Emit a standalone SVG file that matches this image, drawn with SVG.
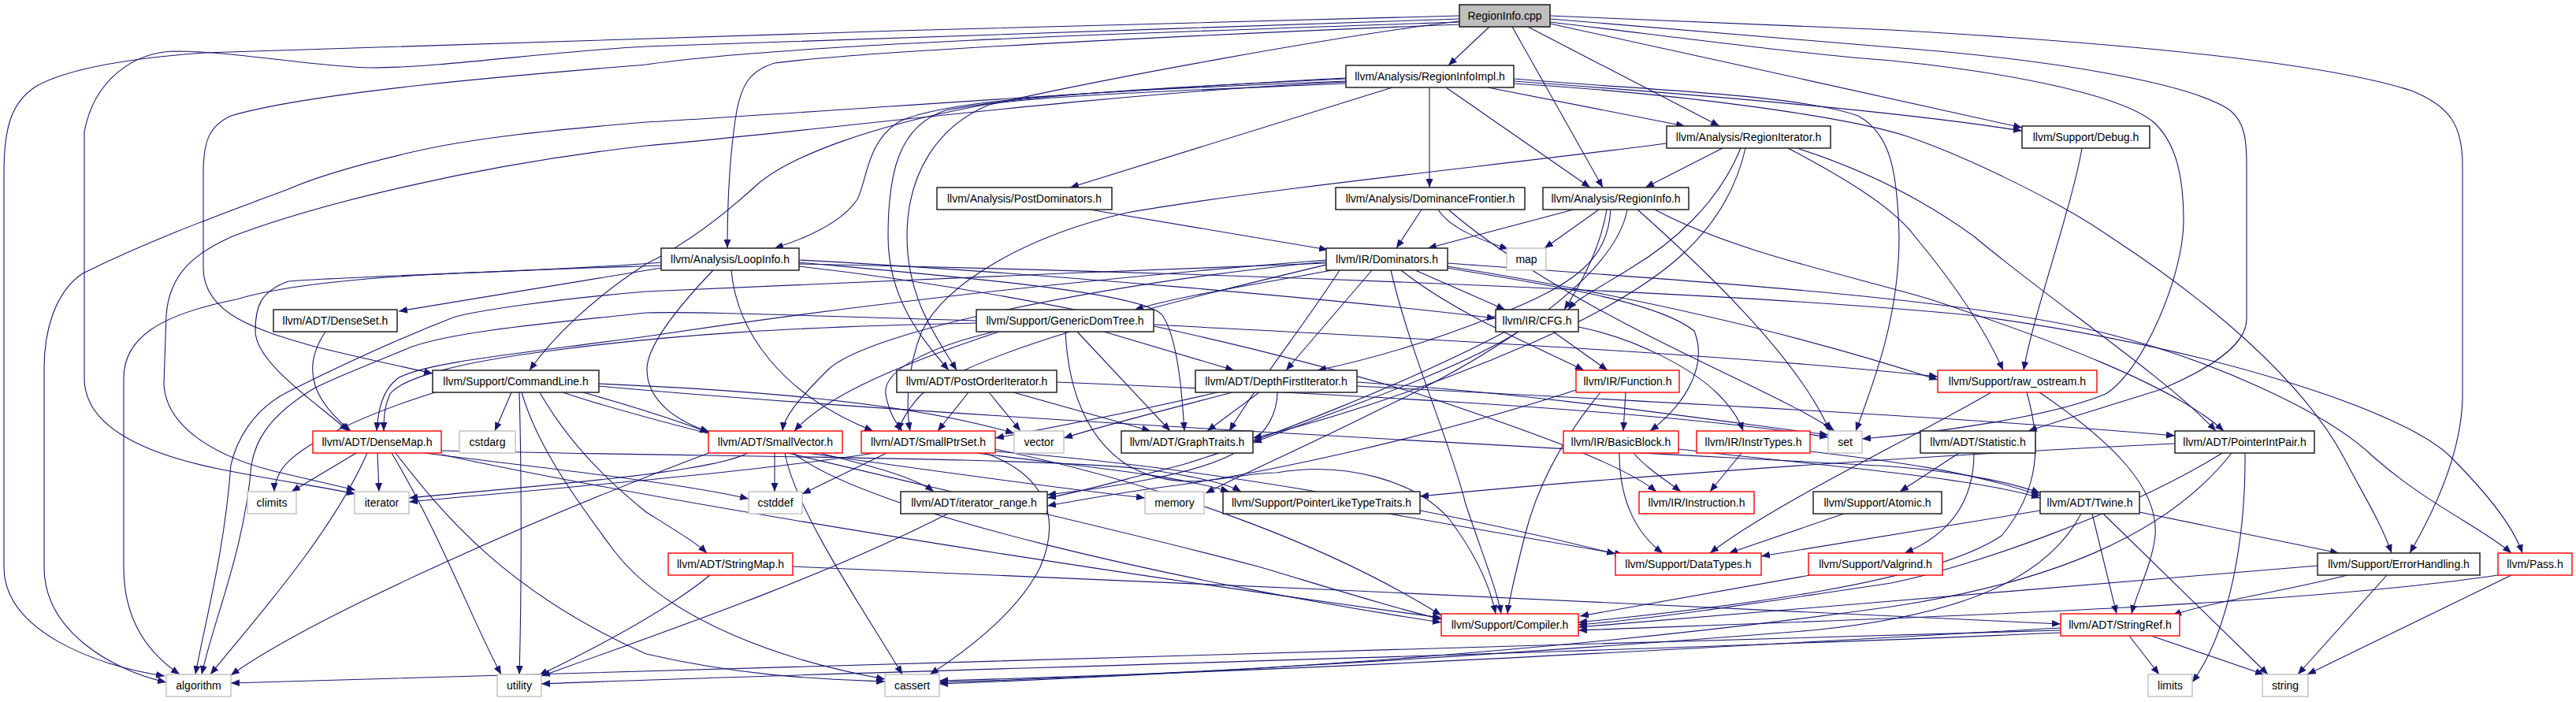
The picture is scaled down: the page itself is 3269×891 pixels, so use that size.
<svg xmlns="http://www.w3.org/2000/svg" width="3269" height="891" viewBox="0 0 3269 891">
<defs>
<style>
.nd rect{fill:#fff;stroke:#222;stroke-width:1.5}
.rd rect{fill:#fff;stroke:#ff0000;stroke-width:1.4}
.gy rect{fill:#fff;stroke:#bfbfbf;stroke-width:1.4}
.mn rect{fill:#bfbfbf;stroke:#222;stroke-width:1.6}
text{font-family:"Liberation Sans",Arial,sans-serif;font-size:14px;text-anchor:middle;fill:#000}
#edges path{fill:none;stroke:#191970;stroke-width:1.1;marker-end:url(#a)}
</style>
<marker id="a" markerUnits="userSpaceOnUse" markerWidth="11" markerHeight="9" viewBox="0 0 11 9" refX="11" refY="4.5" orient="auto"><path d="M0,0 L11,4.5 L0,9 z" fill="#191970"/></marker>
</defs>
<rect width="3269" height="891" fill="#fff"/>
<g id="edges">
<path d="M1890,34 L1838,83"/>
<path d="M1919,34 L2034,238"/>
<path d="M1939,34 L2182,160"/>
<path d="M1967,30 C2150,70 2400,125 2566,162"/>
<path d="M1967,24 C2150,40 2300,52 2400,60 C2600,75 2780,105 2830,140 C2848,155 2851,175 2851,210 L2851,405 C2851,440 2800,470 2740,495 C2660,520 2610,535 2574,547"/>
<path d="M1967,28 C2150,50 2300,70 2400,77 C2550,92 2690,120 2733,155 C2760,180 2771,220 2771,280 C2771,350 2720,470 2672,500 C2600,530 2450,550 2363,557"/>
<path d="M1967,20 C2150,28 2300,34 2400,38 C2700,55 2950,80 3060,115 C3110,135 3125,160 3125,210 L3125,500 C3125,560 3100,630 3058,702"/>
<path d="M1852,20 C1400,30 600,55 260,67 C150,75 80,90 45,110 C15,130 5,160 5,220 L5,720 C5,800 120,845 209,858"/>
<path d="M1852,24 C1500,35 1000,55 820,59 C700,65 560,86 471,86 C400,85 300,65 220,65 C170,67 120,100 107,167 L107,480 C107,540 180,575 277,595 C350,610 410,618 451,627"/>
<path d="M1852,28 C1500,40 1000,55 820,82 C700,92 400,115 293,147 C265,160 258,180 258,220 L258,340 C258,400 330,420 400,440 C460,455 510,465 549,474"/>
<path d="M1852,31 C1500,45 1100,65 983,80 C950,90 941,110 935,140 C925,200 923,260 923,315"/>
<path d="M1852,27 C1700,45 1400,100 1255,133 C1190,160 1151,220 1151,300 C1151,380 1190,430 1214,470"/>
<path d="M1708,100 C1500,110 1300,120 1200,140 C1140,160 1127,220 1127,300 C1127,380 1170,430 1204,470"/>
<path d="M1835,111 L2018,238"/>
<path d="M1814,111 L1814,238"/>
<path d="M1708,103 C1400,115 1200,125 1140,155 C1100,180 1100,230 1088,253 C1070,280 1030,300 983,315"/>
<path d="M1767,111 L1358,238"/>
<path d="M1888,111 L2138,160"/>
<path d="M1708,106 C1500,115 1350,120 1255,132 C1100,160 1000,200 960,235 C900,290 850,320 820,335 C750,380 700,430 672,470"/>
<path d="M1921,103 C2150,120 2400,140 2566,166"/>
<path d="M1921,106 C2150,120 2350,150 2420,173 C2500,200 2620,260 2677,300 C2800,380 2920,480 2974,580 C3000,630 3020,660 3035,702"/>
<path d="M1708,99 C1400,115 1000,145 820,155 C700,165 600,175 523,193 C450,210 400,225 366,240 C300,265 200,300 105,347 C70,370 56,420 56,467 L56,720 C56,800 140,850 211,866"/>
<path d="M1708,104 C1400,118 1000,170 820,185 C600,210 400,260 295,300 C250,320 215,345 211,400 L208,487 C210,540 270,580 356,600 C400,610 430,617 451,622"/>
<path d="M1921,100 C2100,115 2280,120 2358,147 C2400,170 2408,220 2410,300 C2410,400 2380,480 2355,547"/>
<path d="M2186,188 L2088,238"/>
<path d="M2209,188 C2180,260 2120,310 2070,340 C2030,365 2000,380 1990,393"/>
<path d="M2215,188 C2190,300 2100,360 2000,410 C1850,480 1700,530 1590,556"/>
<path d="M2115,182 C1900,210 1600,240 1430,270 C1300,300 1200,360 1170,420 C1150,470 1150,520 1155,547"/>
<path d="M2269,188 C2330,220 2400,260 2430,300 C2480,360 2520,420 2542,470"/>
<path d="M2280,188 C2380,220 2450,260 2505,300 C2600,380 2750,480 2812,547"/>
<path d="M2642,188 C2630,260 2580,400 2568,470"/>
<path d="M1383,266 L1685,317"/>
<path d="M1804,266 L1772,315"/>
<path d="M1825,266 C1840,290 1880,305 1914,316"/>
<path d="M1838,266 C1900,320 2000,380 2100,430 C2220,490 2290,520 2328,547"/>
<path d="M1997,266 L1812,315"/>
<path d="M2029,266 L1960,315"/>
<path d="M2039,266 C2030,320 2000,370 1985,393"/>
<path d="M2044,266 C2040,330 2000,360 1900,400 C1800,440 1720,460 1672,470"/>
<path d="M2078,266 C2150,330 2280,450 2322,547"/>
<path d="M2065,266 C2050,350 1900,450 1750,520 C1650,570 1580,600 1530,626"/>
<path d="M2100,266 C2200,320 2350,350 2450,380 C2600,430 2760,490 2822,547"/>
<path d="M839,340 L506,395"/>
<path d="M839,333 C700,345 450,350 366,357 C330,370 324,390 324,420 C324,460 400,510 442,547"/>
<path d="M839,337 C600,345 400,350 300,380 C200,400 157,430 157,480 L157,720 C157,790 190,830 228,856"/>
<path d="M905,343 C860,390 820,440 821,470 C822,510 860,535 900,548"/>
<path d="M928,343 C935,420 990,500 1108,547"/>
<path d="M1014,333 C1200,350 1450,370 1475,400 C1495,430 1500,500 1503,547"/>
<path d="M1014,330 C1300,345 1700,380 1898,404"/>
<path d="M1014,338 C1300,370 1600,440 1800,500 C1950,550 2060,590 2102,624"/>
<path d="M1014,335 C1500,345 2200,370 2500,400 C2800,440 3050,520 3110,580 C3160,630 3190,670 3201,702"/>
<path d="M1837,334 C2200,360 2500,380 2672,423 C2800,455 2950,520 3012,580 C3080,640 3150,670 3187,702"/>
<path d="M1690,343 C1600,360 1500,375 1440,393"/>
<path d="M1741,343 L1632,470"/>
<path d="M1778,343 C1850,400 1950,440 2010,470"/>
<path d="M1796,343 L1910,393"/>
<path d="M1765,343 C1790,450 1840,560 1860,640 C1880,700 1900,750 1905,779"/>
<path d="M1837,340 C1950,360 2100,380 2150,420 C2170,470 2130,520 2094,547"/>
<path d="M1837,338 C2100,380 2300,430 2459,482"/>
<path d="M1700,343 C1650,420 1600,480 1560,547"/>
<path d="M1683,336 C1500,380 1250,440 1170,500 C1150,520 1142,540 1140,547"/>
<path d="M1683,332 C1400,360 1100,420 1050,470 C1010,510 995,530 993,547"/>
<path d="M1683,330 C1300,360 1000,400 820,427 C650,450 540,460 505,480 C485,495 480,520 478,547"/>
<path d="M1683,334 C1400,345 1000,360 820,370 C700,380 600,395 575,403 C480,440 400,480 366,497 C320,520 300,560 293,590 C285,700 260,790 248,856"/>
<path d="M1239,410 C1000,415 850,425 700,445 C580,460 510,480 495,500 C488,515 487,530 487,547"/>
<path d="M1268,421 C1150,460 1050,500 1008,547"/>
<path d="M1262,421 C1180,440 1120,470 1124,500 C1127,520 1135,535 1145,547"/>
<path d="M1367,421 L1485,547"/>
<path d="M1401,421 L1566,470"/>
<path d="M1464,412 C1800,430 2200,450 2459,478"/>
<path d="M1352,421 C1355,480 1370,550 1430,590 C1500,630 1560,600 1620,600 C1705,585 1800,610 1840,660 C1870,700 1890,740 1898,779"/>
<path d="M1239,407 C1000,400 880,395 820,397 C700,410 580,420 523,440 C450,470 400,490 392,497 C340,530 324,560 319,590 C310,700 270,790 256,856"/>
<path d="M1971,421 L2040,470"/>
<path d="M2003,415 C2080,430 2150,470 2180,500 C2200,520 2208,535 2212,547"/>
<path d="M1927,421 C1850,470 1700,520 1590,562"/>
<path d="M1910,421 C1800,480 1600,560 1500,590 C1420,610 1370,625 1329,632"/>
<path d="M552,498 C450,530 370,570 355,600 C350,610 348,618 348,624"/>
<path d="M649,498 L628,547"/>
<path d="M659,498 C662,600 662,750 659,856"/>
<path d="M662,498 C680,560 720,620 780,700 C850,790 1000,840 1123,862"/>
<path d="M685,498 C720,560 770,610 820,650 C860,675 885,690 897,702"/>
<path d="M740,498 C800,515 850,530 899,549"/>
<path d="M714,498 C900,560 1300,640 1600,720 C1700,750 1780,775 1829,786"/>
<path d="M760,490 C1200,530 2000,570 2400,592 C2500,600 2560,615 2589,626"/>
<path d="M760,487 C950,495 1150,510 1287,550"/>
<path d="M1229,498 L1190,547"/>
<path d="M1255,498 L1295,547"/>
<path d="M1286,498 L1460,547"/>
<path d="M1341,485 C1700,500 2100,520 2320,555"/>
<path d="M1564,498 C1480,520 1400,540 1350,556"/>
<path d="M1598,498 L1532,547"/>
<path d="M1545,498 C1450,520 1350,540 1263,556"/>
<path d="M1621,498 C1620,560 1560,590 1450,610 C1400,620 1360,624 1329,628"/>
<path d="M1722,485 C1950,500 2150,530 2320,552"/>
<path d="M1722,490 C2100,510 2500,530 2760,553"/>
<path d="M2063,498 L2060,547"/>
<path d="M2031,498 C1980,560 1950,620 1935,680 C1925,720 1915,760 1913,779"/>
<path d="M2000,495 C1800,560 1600,600 1500,615 C1420,625 1370,635 1329,642"/>
<path d="M2527,498 C2420,560 2250,640 2170,702"/>
<path d="M2588,498 C2680,560 2740,620 2735,680 C2730,720 2712,750 2705,779"/>
<path d="M2572,498 C2590,560 2590,620 2540,680 C2450,740 2200,770 2003,790"/>
<path d="M452,575 L370,624"/>
<path d="M479,575 L481,624"/>
<path d="M466,575 C420,680 320,790 267,856"/>
<path d="M497,575 C560,680 600,790 636,856"/>
<path d="M502,575 C560,650 640,750 820,830 C950,860 1050,862 1123,865"/>
<path d="M540,575 C650,590 850,610 950,633"/>
<path d="M560,577 C900,650 1500,740 1829,784"/>
<path d="M560,572 C900,580 1300,580 1450,595 C1520,605 1560,615 1575,624"/>
<path d="M983,575 L983,624"/>
<path d="M899,575 C700,650 400,780 293,857"/>
<path d="M949,575 C900,600 700,615 519,632"/>
<path d="M996,575 C1010,650 1100,780 1145,856"/>
<path d="M1007,575 C1100,650 1500,740 1829,790"/>
<path d="M1025,575 C1200,600 1350,620 1453,632"/>
<path d="M1040,575 C1100,590 1160,605 1185,624"/>
<path d="M1125,575 L1018,627"/>
<path d="M1110,575 C950,600 700,620 519,637"/>
<path d="M1250,575 C1320,600 1350,650 1320,720 C1290,780 1220,830 1180,856"/>
<path d="M1263,570 C1500,620 1700,700 1829,781"/>
<path d="M1263,573 C1500,590 1800,640 2050,703"/>
<path d="M1240,575 C1350,590 1480,600 1560,624"/>
<path d="M2073,575 C2090,595 2115,610 2133,624"/>
<path d="M2055,575 C2055,640 2080,680 2110,702"/>
<path d="M2130,570 C2300,590 2500,605 2589,632"/>
<path d="M2210,575 L2170,624"/>
<path d="M2297,573 C2400,585 2500,598 2589,629"/>
<path d="M2486,575 L2411,624"/>
<path d="M2505,575 C2505,640 2470,680 2417,702"/>
<path d="M2760,563 C2400,580 2000,610 1802,630"/>
<path d="M2849,575 C2850,680 2830,800 2782,866"/>
<path d="M2832,575 C2750,680 2600,740 2400,770 C1900,840 1400,860 1192,868"/>
<path d="M2820,575 C2700,650 2500,720 2400,740 C2200,770 2100,785 2003,793"/>
<path d="M2340,652 L2194,702"/>
<path d="M2589,648 C2450,670 2330,690 2235,706"/>
<path d="M2641,652 C2600,730 2500,780 2300,800 C1800,840 1400,860 1192,866"/>
<path d="M2655,652 L2686,779"/>
<path d="M2669,652 L2878,856"/>
<path d="M2715,650 L2968,702"/>
<path d="M901,730 C840,780 740,830 684,857"/>
<path d="M1006,719 C1500,740 2200,770 2615,792"/>
<path d="M2297,730 L2005,782"/>
<path d="M2941,718 C2700,740 2300,770 2003,796"/>
<path d="M2979,730 C2900,750 2800,765 2757,781"/>
<path d="M3029,730 L2916,856"/>
<path d="M3170,730 C2900,770 2400,785 2003,800"/>
<path d="M3187,730 L2928,856"/>
<path d="M1762,652 L2060,704"/>
<path d="M2702,807 L2740,856"/>
<path d="M2730,807 L2873,856"/>
<path d="M2615,800 C2000,820 800,850 293,867"/>
<path d="M2615,803 C2000,830 1000,855 687,868"/>
<path d="M2615,797 C2200,820 1700,850 1192,864"/>
<path d="M1203,652 C1050,730 850,800 687,858"/>
<path d="M413,421 C380,470 400,510 445,547"/>
</g>
<g id="n1" class="mn"><rect x="1852" y="6" width="115" height="28"/><text x="1909.5" y="25">RegionInfo.cpp</text></g>
<g id="n2" class="nd"><rect x="1708" y="83" width="213" height="28"/><text x="1814.5" y="102">llvm/Analysis/RegionInfoImpl.h</text></g>
<g id="n3" class="nd"><rect x="2115" y="160" width="208" height="28"/><text x="2219" y="179">llvm/Analysis/RegionIterator.h</text></g>
<g id="n4" class="nd"><rect x="2566" y="160" width="162" height="28"/><text x="2647" y="179">llvm/Support/Debug.h</text></g>
<g id="n5" class="nd"><rect x="1189" y="238" width="222" height="28"/><text x="1300" y="257">llvm/Analysis/PostDominators.h</text></g>
<g id="n6" class="nd"><rect x="1695" y="238" width="240" height="28"/><text x="1815" y="257">llvm/Analysis/DominanceFrontier.h</text></g>
<g id="n7" class="nd"><rect x="1958" y="238" width="185" height="28"/><text x="2050.5" y="257">llvm/Analysis/RegionInfo.h</text></g>
<g id="n8" class="nd"><rect x="839" y="315" width="175" height="28"/><text x="926.5" y="334">llvm/Analysis/LoopInfo.h</text></g>
<g id="n9" class="nd"><rect x="1683" y="315" width="154" height="28"/><text x="1760" y="334">llvm/IR/Dominators.h</text></g>
<g id="n10" class="gy"><rect x="1912" y="315" width="50" height="28"/><text x="1937" y="334">map</text></g>
<g id="n11" class="nd"><rect x="347" y="393" width="157" height="28"/><text x="425.5" y="412">llvm/ADT/DenseSet.h</text></g>
<g id="n12" class="nd"><rect x="1239" y="393" width="225" height="28"/><text x="1351.5" y="412">llvm/Support/GenericDomTree.h</text></g>
<g id="n13" class="nd"><rect x="1898" y="393" width="105" height="28"/><text x="1950.5" y="412">llvm/IR/CFG.h</text></g>
<g id="n14" class="nd"><rect x="549" y="470" width="211" height="28"/><text x="654.5" y="489">llvm/Support/CommandLine.h</text></g>
<g id="n15" class="nd"><rect x="1138" y="470" width="203" height="28"/><text x="1239.5" y="489">llvm/ADT/PostOrderIterator.h</text></g>
<g id="n16" class="nd"><rect x="1517" y="470" width="205" height="28"/><text x="1619.5" y="489">llvm/ADT/DepthFirstIterator.h</text></g>
<g id="n17" class="rd"><rect x="2000" y="470" width="131" height="28"/><text x="2065.5" y="489">llvm/IR/Function.h</text></g>
<g id="n18" class="rd"><rect x="2459" y="470" width="202" height="28"/><text x="2560" y="489">llvm/Support/raw_ostream.h</text></g>
<g id="n19" class="rd"><rect x="397" y="547" width="163" height="28"/><text x="478.5" y="566">llvm/ADT/DenseMap.h</text></g>
<g id="n20" class="gy"><rect x="583" y="547" width="71" height="28"/><text x="618.5" y="566">cstdarg</text></g>
<g id="n21" class="rd"><rect x="899" y="547" width="170" height="28"/><text x="984" y="566">llvm/ADT/SmallVector.h</text></g>
<g id="n22" class="rd"><rect x="1093" y="547" width="170" height="28"/><text x="1178" y="566">llvm/ADT/SmallPtrSet.h</text></g>
<g id="n23" class="gy"><rect x="1287" y="547" width="63" height="28"/><text x="1318.5" y="566">vector</text></g>
<g id="n24" class="nd"><rect x="1423" y="547" width="167" height="28"/><text x="1506.5" y="566">llvm/ADT/GraphTraits.h</text></g>
<g id="n25" class="rd"><rect x="1984" y="547" width="146" height="28"/><text x="2057" y="566">llvm/IR/BasicBlock.h</text></g>
<g id="n26" class="rd"><rect x="2153" y="547" width="144" height="28"/><text x="2225" y="566">llvm/IR/InstrTypes.h</text></g>
<g id="n27" class="gy"><rect x="2320" y="547" width="43" height="28"/><text x="2341.5" y="566">set</text></g>
<g id="n28" class="nd"><rect x="2437" y="547" width="146" height="28"/><text x="2510" y="566">llvm/ADT/Statistic.h</text></g>
<g id="n29" class="nd"><rect x="2760" y="547" width="177" height="28"/><text x="2848.5" y="566">llvm/ADT/PointerIntPair.h</text></g>
<g id="n30" class="gy"><rect x="314" y="624" width="62" height="28"/><text x="345" y="643">climits</text></g>
<g id="n31" class="gy"><rect x="450" y="624" width="69" height="28"/><text x="484.5" y="643">iterator</text></g>
<g id="n32" class="gy"><rect x="950" y="624" width="68" height="28"/><text x="984" y="643">cstddef</text></g>
<g id="n33" class="nd"><rect x="1143" y="624" width="186" height="28"/><text x="1236" y="643">llvm/ADT/iterator_range.h</text></g>
<g id="n34" class="gy"><rect x="1453" y="624" width="75" height="28"/><text x="1490.5" y="643">memory</text></g>
<g id="n35" class="nd"><rect x="1552" y="624" width="250" height="28"/><text x="1677" y="643">llvm/Support/PointerLikeTypeTraits.h</text></g>
<g id="n36" class="rd"><rect x="2080" y="624" width="146" height="28"/><text x="2153" y="643">llvm/IR/Instruction.h</text></g>
<g id="n37" class="nd"><rect x="2301" y="624" width="163" height="28"/><text x="2382.5" y="643">llvm/Support/Atomic.h</text></g>
<g id="n38" class="nd"><rect x="2589" y="624" width="126" height="28"/><text x="2652" y="643">llvm/ADT/Twine.h</text></g>
<g id="n39" class="rd"><rect x="848" y="702" width="158" height="28"/><text x="927" y="721">llvm/ADT/StringMap.h</text></g>
<g id="n40" class="rd"><rect x="2050" y="702" width="185" height="28"/><text x="2142.5" y="721">llvm/Support/DataTypes.h</text></g>
<g id="n41" class="rd"><rect x="2295" y="702" width="170" height="28"/><text x="2380" y="721">llvm/Support/Valgrind.h</text></g>
<g id="n42" class="nd"><rect x="2941" y="702" width="206" height="28"/><text x="3044" y="721">llvm/Support/ErrorHandling.h</text></g>
<g id="n43" class="rd"><rect x="3170" y="702" width="94" height="28"/><text x="3217" y="721">llvm/Pass.h</text></g>
<g id="n44" class="rd"><rect x="1829" y="779" width="174" height="28"/><text x="1916" y="798">llvm/Support/Compiler.h</text></g>
<g id="n45" class="rd"><rect x="2615" y="779" width="151" height="28"/><text x="2690.5" y="798">llvm/ADT/StringRef.h</text></g>
<g id="n46" class="gy"><rect x="211" y="856" width="82" height="28"/><text x="252" y="875">algorithm</text></g>
<g id="n47" class="gy"><rect x="631" y="856" width="56" height="28"/><text x="659" y="875">utility</text></g>
<g id="n48" class="gy"><rect x="1123" y="856" width="69" height="28"/><text x="1157.5" y="875">cassert</text></g>
<g id="n49" class="gy"><rect x="2726" y="856" width="56" height="28"/><text x="2754" y="875">limits</text></g>
<g id="n50" class="gy"><rect x="2871" y="856" width="58" height="28"/><text x="2900" y="875">string</text></g>
</svg>
